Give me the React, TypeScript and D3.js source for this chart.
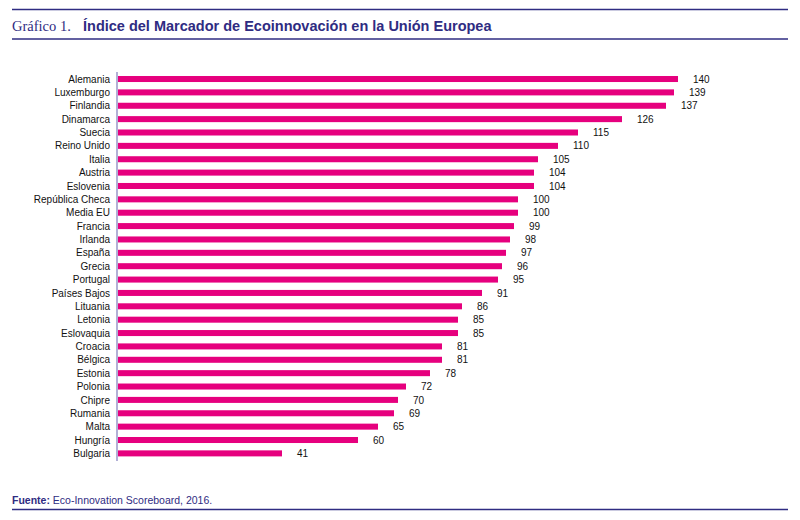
import { useMemo } from "react";
import { scaleBand, scaleLinear } from "d3";

const countries = [
  "Alemania",
  "Luxemburgo",
  "Finlandia",
  "Dinamarca",
  "Suecia",
  "Reino Unido",
  "Italia",
  "Austria",
  "Eslovenia",
  "República Checa",
  "Media EU",
  "Francia",
  "Irlanda",
  "España",
  "Grecia",
  "Portugal",
  "Países Bajos",
  "Lituania",
  "Letonia",
  "Eslovaquia",
  "Croacia",
  "Bélgica",
  "Estonia",
  "Polonia",
  "Chipre",
  "Rumania",
  "Malta",
  "Hungría",
  "Bulgaria",
];

const scores = [
  140, 139, 137, 126, 115, 110, 105, 104, 104, 100, 100, 99, 98, 97, 96, 95, 91,
  86, 85, 85, 81, 81, 78, 72, 70, 69, 65, 60, 41,
];

const titleLabel = "Gráfico 1.";
const titleText = "Índice del Marcador de Ecoinnovación en la Unión Europea";
const sourceLabel = "Fuente:";
const sourceText = "Eco-Innovation Scoreboard, 2016.";

const W = 800;
const H = 520;
const NAVY = "#2f2c82";
const PINK = "#e6007e";
const AXIS = "#9996c8";
const SANS = "'Liberation Sans', Arial, sans-serif";

export default function App() {
  const rows = useMemo(
    () => countries.map((name, i) => ({ name, value: scores[i] })),
    [],
  );

  const x = scaleLinear().domain([0, 140]).range([118, 678]);
  const y = scaleBand<string>()
    .domain(countries)
    .range([72, 460.4])
    .paddingInner(0.55)
    .paddingOuter(0.3);
  const bw = y.bandwidth();

  return (
    <svg
      width={W}
      height={H}
      style={{ position: "absolute", left: 0, top: 0, background: "#fff" }}
    >
      {/* header */}
      <line x1={12} x2={788} y1={9.5} y2={9.5} stroke={NAVY} strokeWidth={1.5} />
      <text
        x={12}
        y={31}
        fill={NAVY}
        fontFamily="'Liberation Serif', 'Times New Roman', serif"
        fontSize={14.5}
      >
        {titleLabel}
      </text>
      <text
        x={83}
        y={31}
        fill={NAVY}
        fontFamily={SANS}
        fontWeight="bold"
        fontSize={14.5}
      >
        {titleText}
      </text>
      <line x1={12} x2={788} y1={39} y2={39} stroke={NAVY} strokeWidth={1.7} />

      {/* bars */}
      <g>
        {rows.map((d) => {
          const yc = (y(d.name) ?? 0) + bw / 2;
          return (
            <g key={d.name}>
              <rect
                x={x(0)}
                y={y(d.name)}
                width={x(d.value) - x(0)}
                height={bw}
                fill={PINK}
              />
              <text
                x={110}
                y={yc + 3.6}
                textAnchor="end"
                fontFamily={SANS}
                fontSize={10}
                fill="#111"
              >
                {d.name}
              </text>
              <text
                x={x(d.value) + 15}
                y={yc + 3.6}
                fontFamily={SANS}
                fontSize={10}
                fill="#111"
              >
                {d.value}
              </text>
            </g>
          );
        })}
      </g>
      <line
        x1={117}
        x2={117}
        y1={72}
        y2={461}
        stroke={AXIS}
        strokeWidth={1.5}
      />

      {/* footer */}
      <text x={12} y={503.5} fill={NAVY} fontFamily={SANS} fontSize={10.5}>
        <tspan fontWeight="bold">{sourceLabel}</tspan>
        <tspan> {sourceText}</tspan>
      </text>
      <line x1={12} x2={788} y1={509.5} y2={509.5} stroke={NAVY} strokeWidth={1.7} />
    </svg>
  );
}
